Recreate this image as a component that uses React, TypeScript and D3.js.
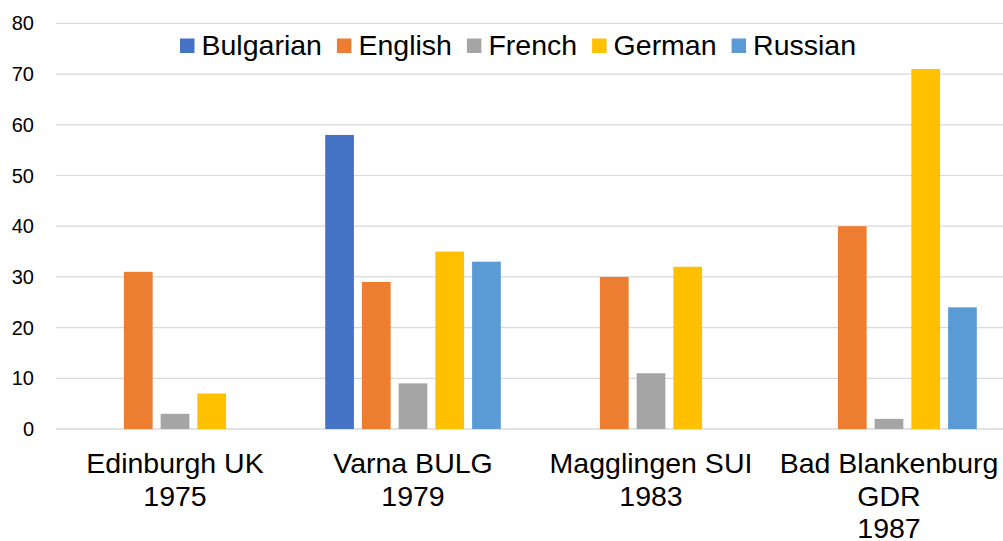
import React, { useEffect, useRef } from "react";
import * as d3 from "d3";

const categories = ["Edinburgh UK\n1975", "Varna BULG\n1979", "Magglingen SUI\n1983", "Bad Blankenburg\nGDR\n1987"];
const seriesNames = ["Bulgarian", "English", "French", "German", "Russian"];
const bulgarian = [null, 58, null, null];
const english = [31, 29, 30, 40];
const french = [3, 9, 11, 2];
const german = [7, 35, 32, 71];
const russian = [null, 33, null, 24];
const yTicks = [0, 10, 20, 30, 40, 50, 60, 70, 80];
const colors = ["#4472C4", "#ED7D31", "#A5A5A5", "#FFC000", "#5B9BD5"];

const W = 1003;
const H = 541;

export default function App() {
  const ref = useRef<SVGSVGElement | null>(null);
  useEffect(() => {
    const svg = d3.select(ref.current);
    svg.selectAll("*").remove();
    const seriesValues = [bulgarian, english, french, german, russian];
    const x0 = 56, x1 = 1008, yBase = 429, yTop = 23.4;
    const x = d3.scaleBand<string>().domain(categories).range([x0, x1]).padding(0);
    const xi = d3.scaleBand<string>().domain(seriesNames).range([0, x.bandwidth()]).paddingInner(0.218).paddingOuter(0.85);
    const y = d3.scaleLinear().domain([0, 80]).range([yBase, yTop]);
    const font = "Liberation Sans, Arial, sans-serif";

    // grid
    svg.append("g").selectAll("line").data(yTicks).join("line")
      .attr("x1", x0).attr("x2", W)
      .attr("y1", d => y(d)).attr("y2", d => y(d))
      .attr("stroke", "#d9d9d9").attr("stroke-width", d => d === 0 ? 1.5 : 1.2);

    // y labels
    svg.append("g").selectAll("text").data(yTicks).join("text")
      .attr("x", 34).attr("y", d => y(d)).attr("dy", "0.35em")
      .attr("text-anchor", "end").attr("font-family", font).attr("font-size", 20).attr("fill", "#000")
      .text(d => String(d));

    // bars
    seriesNames.forEach((s, si) => {
      const vals = seriesValues[si];
      svg.append("g").selectAll("rect")
        .data(categories.map((c, ci) => ({ c, v: vals[ci] })).filter(d => d.v != null))
        .join("rect")
        .attr("x", d => (x(d.c) as number) + (xi(s) as number))
        .attr("width", xi.bandwidth())
        .attr("y", d => y(d.v as number))
        .attr("height", d => yBase - y(d.v as number))
        .attr("fill", colors[si]);
    });

    // x labels
    const xl = svg.append("g");
    categories.forEach(c => {
      const lines = c.split("\n");
      const t = xl.append("text").attr("text-anchor", "middle").attr("font-family", font)
        .attr("font-size", 28.5).attr("fill", "#000");
      lines.forEach((ln, i) => {
        t.append("tspan").attr("x", (x(c) as number) + x.bandwidth() / 2).attr("y", 473 + i * 32.5).text(ln);
      });
    });

    // legend
    const lg = svg.append("g");
    let cx = 180;
    seriesNames.forEach((s, si) => {
      lg.append("rect").attr("x", cx).attr("y", 38.5).attr("width", 14.5).attr("height", 14.5).attr("fill", colors[si]);
      const t = lg.append("text").attr("x", cx + 21.5).attr("y", 55).attr("font-family", font)
        .attr("font-size", 28.5).attr("fill", "#000").text(s);
      const w = (t.node() as SVGTextElement).getComputedTextLength();
      cx = cx + 21.5 + w + 15;
    });
  }, []);
  return (
    <svg ref={ref} width={W} height={H} style={{ position: "absolute", left: 0, top: 0, background: "#fff" }} />
  );
}
